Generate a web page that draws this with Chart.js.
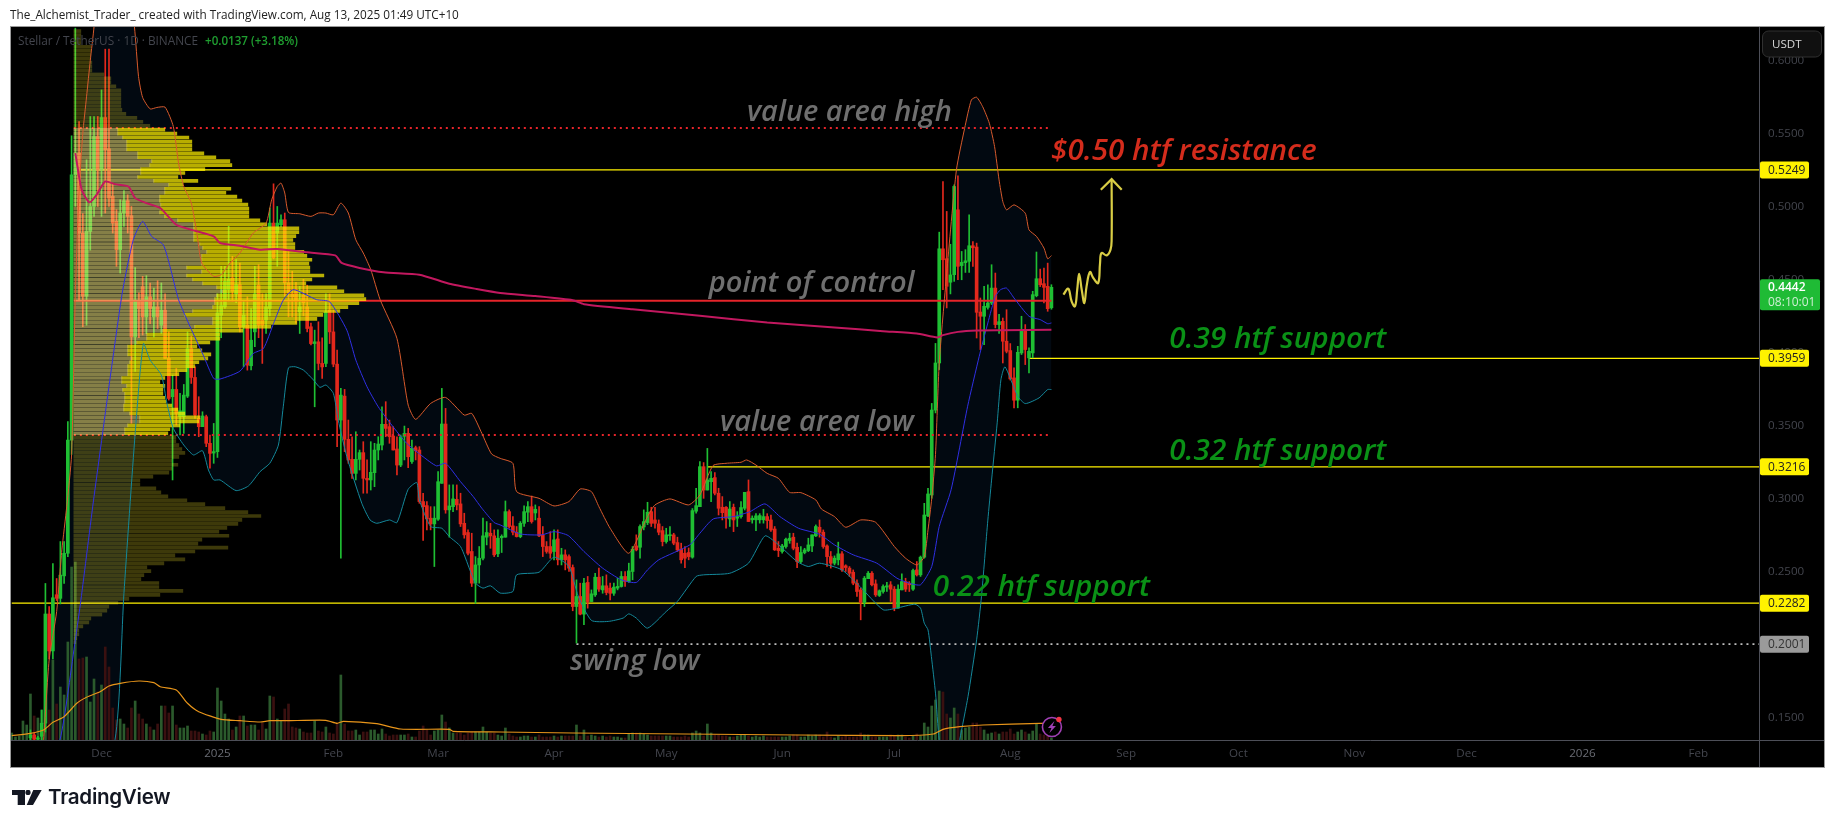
<!DOCTYPE html>
<html>
<head>
<meta charset="utf-8">
<title>Stellar / TetherUS</title>
<script src="https://cdn.jsdelivr.net/npm/chart.js@4/dist/chart.umd.min.js"></script>
<style>
    html, body { margin: 0; padding: 0; background: #fff; overflow: hidden; }
    #wrap { position: relative; width: 1835px; height: 828px; }
    #byline { position: absolute; left: 10px; top: 6px; font: 11.75px "Open Sans", sans-serif; color: #222; white-space: nowrap; }
    #logo { position: absolute; left: 12px; top: 790px; }
    #brand { position: absolute; left: 48px; top: 784px; font: 600 20.6px Inter, sans-serif; color: #131722; letter-spacing: -0.3px; }
    canvas { position: absolute; left: 0; top: 0; }
</style>
</head>
<body>
<div id="wrap">
    <canvas id="chart" width="1835" height="828"></canvas>
    <div id="byline">The_Alchemist_Trader_ created with TradingView.com, Aug 13, 2025 01:49 UTC+10</div>
    <svg id="logo" width="32" height="16" viewBox="0 0 32 16">
        <path d="M0 0H13V15H5.7V5H0Z M21.3 0H29.7L21 15H14.7Z" fill="#131722"/>
        <circle cx="16" cy="2.4" r="2.6" fill="#131722"/>
    </svg>
    <div id="brand">TradingView</div>
</div>
<script>
// days are counted from the first candle, Nov 7 2024
const opens = [
    .0940,.0970,.0980,.1000,.1080,.1360,.1380,.1350,.1370,.1460,
    .2208,.1955,.2340,.2315,.2469,.2624,.3399,.5216,.5364,.4817,
    .4384,.4828,.4999,.5478,.5250,.5608,.5394,.5068,.4897,.4703,
    .4954,.5038,.4936,.4106,.4350,.4450,.4243,.4380,.4243,.4311,
    .4186,.4289,.3958,.3696,.3746,.3560,.3559,.3700,.4026,.3828,
    .3548,.3491,.3559,.3377,.3310,.3320,.4254,.4311,.4430,.4509,
    .4400,.4463,.4175,.4186,.3908,.4140,.4460,.4220,.4220,.4300,
    .4885,.4817,.4874,.4908,.4475,.4400,.4430,.4277,.4390,.4311,
    .4175,.4060,.4072,.3924,.3924,.4289,.4140,.3919,.3536,.3700,
    .3404,.3267,.3171,.3267,.3313,.3137,.3126,.3176,.3331,.3365,
    .3507,.3491,.3427,.3338,.3228,.3425,.3445,.3252,.3347,.3331,
    .2978,.2950,.2864,.2825,.2857,.3103,.3509,.2921,.2943,.2993,
    .2962,.2829,.2766,.2636,.2419,.2544,.2590,.2734,.2761,.2743,
    .2620,.2730,.2734,.2909,.2811,.2768,.2738,.2829,.2905,.2943,
    .2900,.2864,.2750,.2670,.2670,.2636,.2722,.2579,.2613,.2601,
    .2526,.2259,.2328,.2207,.2424,.2293,.2339,.2460,.2373,.2401,
    .2385,.2350,.2385,.2396,.2465,.2430,.2499,.2674,.2665,.2804,
    .2834,.2909,.2852,.2825,.2779,.2704,.2744,.2750,.2697,.2652,
    .2624,.2629,.2597,.2912,.2943,.3217,.3057,.3114,.3142,.3035,
    .2939,.2939,.2859,.2939,.2864,.2875,.2932,.3046,.2853,.2853,
    .2853,.2853,.2875,.2852,.2790,.2658,.2636,.2670,.2711,.2734,
    .2665,.2567,.2629,.2642,.2674,.2743,.2802,.2768,.2674,.2601,
    .2556,.2579,.2620,.2538,.2522,.2494,.2419,.2373,.2287,.2450,
    .2487,.2414,.2335,.2362,.2392,.2408,.2378,.2248,.2373,.2430,
    .2419,.2378,.2510,.2476,.2597,.2880,.3023,.3604,.3927,.4709,
    .4641,.4480,.4532,.4976,.4594,.4614,.4623,.4730,.4721,.4276,
    .4247,.4308,.4338,.4440,.4190,.4212,.4076,.4012,.3825,.3672,
    .3996,.4144,.3962,.3996,.4388,.4504,.4470,.4452,.4305
];
const highs = [
    .0990,.1000,.1010,.1090,.1340,.1414,.1390,.1370,.1550,.2417,
    .2258,.2554,.2451,.2704,.2704,.3525,.5483,.6220,.5580,.4950,
    .5319,.5615,.5615,.5615,.5797,.6076,.6076,.5159,.4977,.5045,
    .5107,.5079,.4999,.4580,.4407,.4520,.4525,.4475,.4440,.4490,
    .4475,.4400,.4140,.3844,.3890,.3720,.3780,.4140,.4110,.3900,
    .3696,.3593,.3570,.3434,.3513,.4400,.4589,.4589,.4863,.4657,
    .4635,.4612,.4357,.4380,.4300,.4589,.4600,.4400,.4400,.4988,
    .5154,.4999,.4942,.4954,.4703,.4555,.4480,.4452,.4500,.4460,
    .4200,.4152,.4209,.4100,.4400,.4400,.4289,.4015,.3753,.3746,
    .3536,.3422,.3456,.3331,.3388,.3263,.3388,.3377,.3422,.3627,
    .3662,.3536,.3491,.3422,.3434,.3495,.3479,.3399,.3358,.3354,
    .3035,.2978,.2943,.2943,.3183,.3753,.3616,.3092,.3092,.3092,
    .3035,.2898,.2784,.2761,.2601,.2670,.2864,.2841,.2829,.2784,
    .2784,.2750,.2982,.2921,.2875,.2807,.2841,.2948,.2978,.3016,
    .2955,.2943,.2807,.2704,.2772,.2784,.2784,.2658,.2647,.2613,
    .2544,.2442,.2419,.2453,.2465,.2373,.2487,.2522,.2465,.2476,
    .2419,.2419,.2453,.2499,.2499,.2556,.2670,.2750,.2818,.2921,
    .2973,.2939,.2939,.2852,.2807,.2795,.2807,.2761,.2734,.2693,
    .2670,.2660,.2930,.3069,.3251,.3245,.3342,.3183,.3176,.3069,
    .3012,.2943,.2978,.2961,.2909,.2978,.3041,.3126,.2880,.2895,
    .2895,.2925,.2895,.2885,.2807,.2704,.2685,.2727,.2761,.2761,
    .2693,.2670,.2658,.2727,.2750,.2818,.2852,.2784,.2681,.2636,
    .2606,.2700,.2636,.2545,.2533,.2510,.2442,.2385,.2465,.2499,
    .2499,.2442,.2373,.2408,.2424,.2430,.2396,.2408,.2483,.2453,
    .2430,.2515,.2567,.2605,.2966,.3069,.3650,.4061,.4823,.5170,
    .4965,.4740,.5147,.5209,.4691,.4703,.4942,.4759,.4748,.4372,
    .4452,.4463,.4600,.4543,.4260,.4235,.4292,.4060,.3893,.4041,
    .4247,.4190,.4030,.4418,.4687,.4570,.4577,.4611,.4463
];
const lows = [
    .0920,.0950,.0960,.0980,.1060,.1320,.1320,.1310,.1330,.1400,
    .1900,.1900,.2300,.2277,.2417,.2600,.3300,.5000,.4361,.4175,
    .4186,.4700,.4931,.4999,.4931,.4954,.4999,.4817,.4589,.4543,
    .4863,.4817,.3514,.3870,.4100,.4118,.4129,.4197,.4106,.4163,
    .4129,.3958,.3673,.3126,.3502,.3434,.3445,.3690,.3787,.3548,
    .3422,.3491,.3354,.3206,.3240,.3280,.4100,.4300,.4350,.4350,
    .4340,.4140,.3901,.3878,.3880,.4038,.4100,.3924,.4129,.4250,
    .4640,.4589,.4860,.4384,.4243,.4243,.4200,.4129,.4250,.4140,
    .4050,.3627,.3880,.3821,.3901,.4060,.3901,.3354,.2590,.3320,
    .3240,.3137,.3126,.3194,.3035,.3035,.3057,.3080,.3263,.3331,
    .3422,.3377,.3331,.3160,.3217,.3263,.3210,.3240,.3263,.2966,
    .2711,.2784,.2784,.2533,.2848,.3103,.2898,.2734,.2909,.2921,
    .2807,.2727,.2613,.2396,.2281,.2419,.2579,.2681,.2658,.2601,
    .2600,.2629,.2734,.2795,.2750,.2735,.2730,.2807,.2841,.2830,
    .2852,.2738,.2601,.2624,.2590,.2579,.2544,.2544,.2510,.2499,
    .2230,.2009,.2202,.2134,.2248,.2293,.2328,.2362,.2350,.2339,
    .2305,.2335,.2373,.2392,.2397,.2424,.2442,.2640,.2590,.2784,
    .2820,.2807,.2795,.2750,.2674,.2693,.2711,.2682,.2636,.2556,
    .2526,.2579,.2590,.2898,.2943,.3000,.3057,.2978,.3023,.2886,
    .2852,.2795,.2807,.2772,.2807,.2864,.2920,.2841,.2830,.2779,
    .2830,.2830,.2795,.2773,.2643,.2601,.2624,.2658,.2692,.2647,
    .2526,.2556,.2620,.2635,.2635,.2738,.2734,.2658,.2533,.2522,
    .2544,.2544,.2499,.2499,.2465,.2408,.2328,.2168,.2259,.2450,
    .2400,.2328,.2328,.2350,.2362,.2294,.2230,.2248,.2373,.2362,
    .2362,.2369,.2468,.2465,.2590,.2875,.3000,.3585,.3882,.4429,
    .4304,.4400,.4486,.4497,.4497,.4547,.4547,.4588,.4098,.4019,
    .4053,.4295,.4327,.4167,.4130,.3927,.3996,.3810,.3620,.3620,
    .3985,.3916,.3859,.3962,.4380,.4450,.4338,.4281,.4295
];
const closes = [
    .0970,.0980,.1000,.1080,.1300,.1380,.1350,.1360,.1460,.2208,
    .1955,.2319,.2315,.2474,.2624,.3399,.5216,.5364,.4817,.4384,
    .4828,.4999,.5478,.5250,.5608,.5387,.5056,.4885,.4703,.4954,
    .5038,.4931,.4106,.4357,.4300,.4243,.4380,.4300,.4311,.4243,
    .4289,.3958,.3684,.3746,.3582,.3600,.3707,.4026,.3828,.3570,
    .3491,.3564,.3377,.3308,.3320,.4270,.4320,.4486,.4500,.4418,
    .4463,.4175,.4254,.3912,.4083,.4400,.4186,.4186,.4311,.4885,
    .4647,.4885,.4908,.4475,.4407,.4380,.4350,.4311,.4340,.4163,
    .4060,.4072,.3924,.3900,.4277,.4140,.3919,.3536,.3707,.3404,
    .3263,.3171,.3267,.3313,.3137,.3126,.3178,.3331,.3372,.3507,
    .3479,.3422,.3331,.3228,.3422,.3445,.3285,.3343,.3326,.2978,
    .2943,.2859,.2825,.2864,.3114,.3509,.2921,.2948,.2996,.2955,
    .2825,.2750,.2624,.2419,.2544,.2590,.2743,.2766,.2743,.2613,
    .2727,.2740,.2909,.2807,.2768,.2738,.2829,.2909,.2943,.2841,
    .2925,.2743,.2670,.2636,.2624,.2716,.2579,.2613,.2579,.2522,
    .2259,.2328,.2207,.2419,.2293,.2346,.2460,.2378,.2401,.2355,
    .2350,.2392,.2397,.2465,.2430,.2503,.2652,.2647,.2807,.2841,
    .2905,.2829,.2829,.2768,.2704,.2750,.2750,.2693,.2647,.2579,
    .2590,.2601,.2916,.2950,.3217,.3057,.3126,.3137,.3035,.2932,
    .2902,.2864,.2927,.2852,.2875,.2937,.3041,.2841,.2864,.2880,
    .2882,.2875,.2848,.2784,.2647,.2642,.2674,.2720,.2727,.2658,
    .2567,.2629,.2647,.2681,.2750,.2807,.2768,.2670,.2601,.2556,
    .2590,.2620,.2510,.2526,.2487,.2419,.2362,.2287,.2453,.2487,
    .2408,.2339,.2367,.2396,.2401,.2378,.2248,.2378,.2430,.2378,
    .2408,.2506,.2476,.2597,.2886,.3030,.3605,.3927,.4709,.4634,
    .4452,.4530,.5136,.4589,.4616,.4627,.4730,.4716,.4274,.4247,
    .4315,.4338,.4440,.4190,.4210,.4076,.4007,.3818,.3672,.4000,
    .4144,.4019,.4007,.4395,.4504,.4463,.4445,.4299,.4445
];
const volumes = [
    7,3,4,19,15,46,24,22,30,37,
    30,80,36,53,45,98,173,178,81,82,
    83,38,61,48,55,93,73,32,20,21,
    16,12,32,39,26,21,16,13,10,16,
    34,34,27,34,15,12,12,14,9,9,
    8,6,5,9,8,52,39,26,21,10,
    13,24,24,14,15,15,10,17,11,44,
    43,21,19,31,36,13,12,11,8,7,
    7,19,9,8,13,7,6,17,65,16,
    9,9,10,5,8,8,10,10,6,11,
    6,4,5,5,5,5,6,3,3,9,
    14,10,5,9,10,25,18,12,7,7,
    7,5,7,8,8,8,13,8,7,7,
    5,4,12,6,4,3,3,4,4,3,
    3,5,3,3,3,4,3,4,4,4,
    4,15,4,10,4,5,4,3,4,3,
    4,3,3,2,2,6,7,7,7,6,
    5,4,4,4,4,4,4,3,3,3,
    4,3,7,9,7,4,16,7,5,5,
    4,4,3,3,4,5,5,4,3,4,
    3,4,3,3,3,3,3,3,4,5,
    5,3,3,5,4,5,5,3,8,3,
    2,4,3,4,3,3,3,7,5,5,
    3,3,3,3,3,5,4,5,5,3,
    2,4,6,4,17,13,34,40,49,48,
    26,22,32,26,10,12,13,17,17,13,
    10,6,7,8,6,8,8,11,6,8,
    10,8,6,9,16,6,5,5,2
];

// bollinger bands and averages, read at the turning points
const upperDays = [8,8.5,10,12,13.4,14.7,16,17,18,19,20,21,22,23,24,28,32.8,33.9,35,37,38.8,41,43.2,44.6,46,48,49.5,50.8,54,56,58.4,61,64.6,68,69.5,71,72,73,74,77,80,82,84,86,88,90,92,94,96,98.5,103,106,108,112,116,121,123,125.7,128.3,130.6,134,135,141,145,149,152,155,157,160,165,170,172,176,181,184,187.5,191,195,196.5,199,202,205,208,211,215,216.5,220,223,227,231,236,239,242,244,245,246,247,248,250,252.6,254.8,256.6,258,259.6,261.4,262.8,264,265,266,268,271,272,274,276,277,278];
const upperBand = [.130,.1346,.1893,.2224,.2647,.2943,.3300,.4400,.5100,.5500,.5750,.6000,.6230,.6600,.6800,.7200,.6230,.5889,.5745,.5667,.5677,.5679,.5547,.5296,.5136,.5022,.4817,.4612,.4520,.4532,.4612,.4680,.4817,.4885,.5045,.5136,.5159,.5091,.4958,.4949,.4931,.4954,.4954,.4942,.5022,.4954,.4771,.4680,.4566,.4361,.4095,.3639,.3541,.3650,.3691,.3570,.3582,.3445,.3304,.3274,.3240,.3046,.3000,.2948,.2978,.3064,.3046,.2943,.2795,.2624,.2875,.2955,.2996,.2955,.3023,.3224,.3240,.3247,.3263,.3228,.3171,.3137,.3041,.3039,.2989,.2927,.2875,.2802,.2852,.2836,.2670,.2590,.2544,.2601,.2784,.3000,.3300,.3927,.4543,.5250,.5535,.5729,.5747,.5683,.5569,.5409,.5181,.5033,.4976,.5010,.4953,.4839,.4794,.4714,.4641,.4662];
const lowerDays = [8,20,27.6,30,33,35.2,37,40,41.5,43.2,46,48.6,51,52.6,54,55.7,60,63.3,66.4,69,71.3,72.6,74,75.8,78,80.7,82.4,84,86,87.3,89.6,93.6,95.8,97.6,101,103,106,108.3,109,112,115,117,120,122.5,124,126,128,130.6,134,135,141,145,149,151.5,155,159.5,163.5,165,167,170,175,178,183,185,192,197,201.4,204.5,210,213,216,222,226.8,233,236.6,241.5,243,244,245,245.9,247,248,250,252,253.5,255.7,258,259.3,261,262,263.5,264.5,265.6,269,271,274.7,277,278];
const lowerBand = [.130,.090,.1346,.2349,.3445,.4060,.3947,.3844,.3650,.3479,.3365,.3297,.3326,.3194,.3126,.3126,.3053,.3085,.3183,.3240,.3365,.3627,.3894,.3901,.3878,.3810,.3760,.3776,.3719,.3536,.3285,.2966,.2852,.2829,.2852,.2834,.3062,.3108,.2989,.2807,.2795,.2738,.2670,.2510,.2419,.2385,.2401,.2351,.2362,.2476,.2494,.2597,.2533,.2328,.2164,.2157,.2180,.2209,.2180,.2111,.2225,.2294,.2465,.2476,.2487,.2556,.2743,.2693,.2567,.2533,.2556,.2510,.2396,.2237,.2248,.2275,.2248,.2145,.2099,.1917,.1666,.1347,.1100,.1100,.1347,.1643,.2031,.2327,.2851,.3125,.3517,.3813,.3900,.3699,.3649,.3688,.3745,.3745];
const basisDays = [8,12.9,17,18.5,22,29.4,32.5,35,37.4,40.5,42.3,44.6,47.7,51.2,54,55.7,61,64.6,67.3,70,72.6,75.3,81.5,85,89.6,92,95,98,101.6,105.6,110,113.6,116,120,123.4,125.7,129,130.6,136,141.7,145,148.8,153,158,163,167,170,173,181.3,184,187.6,193,197.4,201.4,205.4,210.4,216,220,225,231.3,236.7,240,243,246,248,251.2,255.6,258.7,261,263,264.4,266,268,272,275,277,278];
const basisBand = [.110,.1346,.2030,.2305,.3012,.4384,.4771,.4897,.4794,.4737,.4589,.4361,.4175,.3981,.3821,.3817,.3871,.3992,.4026,.4197,.4357,.4429,.4361,.4346,.4152,.3947,.3764,.3627,.3502,.3377,.3285,.3222,.3240,.3114,.3012,.2932,.2834,.2818,.2756,.2750,.2772,.2745,.2636,.2522,.2442,.2424,.2510,.2579,.2681,.2761,.2859,.2875,.2909,.2962,.2875,.2795,.2754,.2681,.2613,.2556,.2453,.2419,.2408,.2533,.2807,.3061,.3631,.3973,.4201,.4383,.4429,.4440,.4372,.4247,.4224,.4196,.4201];
const maDays = [17,18.7,20.8,22.7,25,27.6,31.2,33,36,39.7,44,48.6,54,55.7,61,66.4,70.9,79,86.5,88.2,93,99.4,109,117,124.3,130.6,140,150,153,166,184,202,220,233,242,247.5,249,253,258,264.6,278];
const maLine = [.5364,.5113,.5027,.5079,.5170,.5152,.5136,.5056,.5022,.4988,.4874,.4835,.4794,.4749,.4730,.4703,.4708,.4685,.4664,.4612,.4578,.4548,.4532,.4470,.4434,.4407,.4385,.4357,.4330,.4295,.4250,.4204,.4170,.4145,.4129,.4102,.4118,.4140,.4150,.4152,.4155];
const volMaDays = [0,5,8.5,11,14,17.4,20,23.6,26,29,34,38,39.7,44,47,50,56,61,66.4,69,73.5,84,87,88.7,97.6,104,117,118,130.6,150,180,210,237.5,246.4,249,253.5,259.7,274.9,278];
const volMa = [4.3,6.7,10,17.7,23.3,36.7,42.7,48.3,54,56.7,59,57.3,53.3,50,36.7,28.3,20.7,19.3,18,19.3,19.3,19.7,16.7,18.7,16.3,11,10.7,8.7,8,7,6,5,4.3,6,10.7,13.3,15,16.7,16.7];

// volume profile, one row per price bucket from the top down
const profileTop = 0.62;
const profileStep = 0.0027;
const profileVolume = [
    7,7,7,7,17,17,17,17,18,18,18,30,37,37,42,47,47,47,47,47,48,52,63,69,76,
    91,103,115,118,118,118,130,142,156,158,131,111,104,124,109,157,152,163,168,174,175,175,175,186,193,
    225,225,222,219,221,221,230,233,238,235,236,236,250,238,232,263,270,290,292,285,274,266,249,243,223,
    197,169,146,146,136,123,128,137,134,125,121,113,105,91,86,91,89,89,91,92,98,104,111,126,125,106,96,94,
    102,102,105,108,111,105,98,104,98,95,79,66,66,82,87,94,113,131,151,174,187,168,164,153,145,155,128,124,154,121,101,111,
    90,73,77,70,67,85,85,109,86,55,44,35,33,28,17,15,9,5,5,3,2
];
// buy side of each value area row
const valueAreaFirstRow = 25;
const valueAreaBuy = [
    44,44,49,53,53,53,64,64,78,76,67,67,64,80,95,91,91,86,86,87,87,86,91,104,120,
    120,120,120,120,126,129,133,128,128,128,113,128,113,119,129,143,149,143,141,141,139,119,111,139,139,
    121,89,73,73,63,54,54,54,58,56,54,54,54,48,48,53,49,51,51,51,50,50,56,66,66,54,51,51
];
const profileStartDay = 16.6;
const profileDaysPerUnit = 0.2674;
const profileLastDay = 278;

const valueAreaHigh = 0.5536;
const valueAreaLow = 0.3434;
const pointOfControl = 0.4353;

const levelPrices = [0.5249, 0.3959, 0.3216, 0.2282];
const levelStartDays = [16.6, 272, 186, 0];
const swingLow = 0.2001;
const swingLowStartDay = 151;

const priceTicks = [0.15,0.20,0.25,0.30,0.35,0.40,0.45,0.50,0.55,0.60];
const timeTickDays = [24,55,86,114,145,175,206,236,267,298,328,359,389,420,451];
const timeTickLabels = ['Dec','2025','Feb','Mar','Apr','May','Jun','Jul','Aug','Sep','Oct','Nov','Dec','2026','Feb'];

const lastPrice = 0.4442;
const countdown = '08:10:01';

const noteLabels = ['value area high','point of control','value area low','swing low','$0.50 htf resistance','0.39 htf support','0.32 htf support','0.22 htf support'];
const noteDays = [196.6,186.4,189.4,149.3,277.9,309.5,309.5,246.3];
const notePrices = [.5653,.4482,.3529,.1892,.5392,.4098,.3331,.2406];
const noteKinds = ['grey','grey','grey','grey','red','green','green','green'];

// the hand drawn path and its arrow head
const pathDays = [281.2,282.5,283.4,284.3,284.9,285.4,286.1,286.8,287.4,288.3,289.2,290.5,291,291.4,292.8,293.8,294.1,294.1];
const pathPrices = [.4395,.4436,.4349,.4315,.4429,.4538,.4429,.4338,.4452,.4550,.4509,.4475,.4611,.4680,.4664,.4703,.4771,.5181];
const headDays = [291.2,294.1,296.8];
const headPrices = [.5113,.5186,.5113];

const COLORS = {
    up: '#1fbf33', down: '#e3281c',
    volUp: '#2b5a2c', volDown: '#3a1010',
    level: '#fff200', poc: '#e6242a', dots: '#e6242a', swing: '#bdbdbd',
    tick: '#43454d', axis: '#4d4f58', frame: '#9a9a9a',
    grey: '#6f6f6f', red: '#d42c1c', green: '#0a9116',
};

const X_MIN = -0.2;
const X_MAX = 467.2;
const VOL_MAX = 713;

const pairs = (xs, ys) => xs.map((x, i) => ({ x, y: ys[i] }));
const days = closes.map((_, i) => i);
const isUp = i => closes[i] >= opens[i];
const candleColors = days.map(i => isUp(i) ? COLORS.up : COLORS.down);
const volumeColors = days.map(i => isUp(i) ? COLORS.volUp : COLORS.volDown);

function lineSet(data, color, width, order, extra) {
    return Object.assign({
        type: 'line', data, borderColor: color, borderWidth: width, order,
        pointRadius: 0, fill: false, yAxisID: 'y',
    }, extra || {});
}

const profileRows = profileVolume.map((volume, i) => ({ price: profileTop - i * profileStep, volume, row: i }));
const inValueArea = r => r.row >= valueAreaFirstRow && r.row < valueAreaFirstRow + valueAreaBuy.length;
const toDay = units => profileStartDay + units * profileDaysPerUnit;

const datasets = [
    // band fill, kept apart from the band lines because it sits behind everything
    lineSet(pairs(upperDays, upperBand), 'transparent', 0, 40, { fill: '+1', backgroundColor: '#020911', tension: 0.2 }),
    lineSet(pairs(lowerDays, lowerBand), 'transparent', 0, 41, { tension: 0.2 }),

    {
        type: 'bar', data: days.map(i => ({ x: i, y: volumes[i] })), yAxisID: 'yVol',
        backgroundColor: volumeColors, barThickness: 2, grouped: false, order: 30,
    },
    lineSet(pairs(levelStartDays.slice(0, 1).concat([X_MAX]), [levelPrices[0], levelPrices[0]]), COLORS.level, 1.2, 22),
    lineSet(pairs(levelStartDays.slice(1, 2).concat([X_MAX]), [levelPrices[1], levelPrices[1]]), COLORS.level, 1.2, 22),
    lineSet(pairs(levelStartDays.slice(2, 3).concat([X_MAX]), [levelPrices[2], levelPrices[2]]), COLORS.level, 1.2, 22),
    lineSet(pairs(levelStartDays.slice(3, 4).concat([X_MAX]), [levelPrices[3], levelPrices[3]]), COLORS.level, 1.2, 22),
    lineSet(pairs([swingLowStartDay, X_MAX], [swingLow, swingLow]), COLORS.swing, 1.7, 22, { borderDash: [2, 4] }),

    {
        type: 'bar', data: days.map(i => ({ x: i, y: [lows[i], highs[i]] })),
        backgroundColor: candleColors, barThickness: 1, grouped: false, order: 21,
    },
    {
        type: 'bar', data: days.map(i => ({ x: i, y: [opens[i], closes[i]] })),
        backgroundColor: candleColors, barThickness: 3, grouped: false, order: 20, minBarLength: 1,
    },

    lineSet(pairs([profileStartDay, profileLastDay], [pointOfControl, pointOfControl]), COLORS.poc, 2, 12),
    lineSet(pairs([profileStartDay, profileLastDay], [valueAreaHigh, valueAreaHigh]), COLORS.dots, 2, 12, { borderDash: [2, 4] }),
    lineSet(pairs([profileStartDay, profileLastDay], [valueAreaLow, valueAreaLow]), COLORS.dots, 2, 12, { borderDash: [2, 4] }),

    // volume profile rows are horizontal bars on the same two scales
    {
        type: 'bar', indexAxis: 'y', grouped: false, barThickness: 3, order: 10,
        data: profileRows.filter(r => !inValueArea(r)).map(r => ({ y: r.price, x: [toDay(0), toDay(r.volume)] })),
        backgroundColor: 'rgba(255,240,40,0.24)',
    },
    {
        type: 'bar', indexAxis: 'y', grouped: false, barThickness: 3, order: 10,
        data: profileRows.filter(inValueArea).map(r => ({ y: r.price, x: [toDay(0), toDay(valueAreaBuy[r.row - valueAreaFirstRow])] })),
        backgroundColor: 'rgba(255,235,120,0.52)',
    },
    {
        type: 'bar', indexAxis: 'y', grouped: false, barThickness: 3, order: 10,
        data: profileRows.filter(inValueArea).map(r => ({ y: r.price, x: [toDay(valueAreaBuy[r.row - valueAreaFirstRow]), toDay(r.volume)] })),
        backgroundColor: 'rgba(255,240,0,0.72)',
    },

    lineSet(pairs(upperDays, upperBand), '#d85a2c', 1, 6, { tension: 0.2 }),
    lineSet(pairs(lowerDays, lowerBand), '#14889a', 1, 6, { tension: 0.2 }),
    lineSet(pairs(basisDays, basisBand), '#2f2fe4', 1, 6, { tension: 0.2 }),
    lineSet(pairs(maDays, maLine), '#c2185f', 2, 4, { tension: 0.2 }),
    lineSet(pairs(volMaDays, volMa), '#e8951a', 1.2, 5, { yAxisID: 'yVol', tension: 0.2 }),

    lineSet(pairs(pathDays, pathPrices), '#d9cd45', 2.2, 2, { tension: 0.4 }),
    lineSet(pairs(headDays, headPrices), '#d9cd45', 2.2, 2),
];

function priceTag(ctx, y, left, width, height, fill, textColor, text) {
    ctx.fillStyle = fill;
    ctx.beginPath();
    ctx.roundRect(left, y - height / 2, width, height, 2);
    ctx.fill();
    ctx.fillStyle = textColor;
    ctx.font = '12px "Open Sans", sans-serif';
    ctx.textAlign = 'left';
    ctx.textBaseline = 'middle';
    ctx.fillText(text, left + 8, y + 0.5);
}

const panelPlugin = {
    id: 'panel',
    beforeDraw(chart) {
        const { ctx, chartArea, scales } = chart;
        ctx.save();
        ctx.fillStyle = '#000';
        ctx.fillRect(chartArea.left, chartArea.top, scales.y.right - chartArea.left, scales.x.bottom - chartArea.top);
        ctx.restore();
    },
    afterDraw(chart) {
        const { ctx, chartArea, scales } = chart;
        const { x, y } = scales;
        const right = y.right;
        const bottom = x.bottom;
        ctx.save();

        // frame and the axis line that runs under the price scale
        ctx.strokeStyle = COLORS.axis;
        ctx.lineWidth = 1;
        ctx.beginPath();
        ctx.moveTo(chartArea.left, chartArea.bottom + 0.5);
        ctx.lineTo(right, chartArea.bottom + 0.5);
        ctx.moveTo(chartArea.right + 0.5, chartArea.top);
        ctx.lineTo(chartArea.right + 0.5, bottom);
        ctx.stroke();
        ctx.strokeStyle = COLORS.frame;
        ctx.strokeRect(chartArea.left - 0.5, chartArea.top - 0.5, right - chartArea.left + 1, bottom - chartArea.top + 1);

        // legend line
        ctx.textAlign = 'left';
        ctx.textBaseline = 'middle';
        ctx.font = '11.8px "Open Sans", sans-serif';
        ctx.fillStyle = '#43454d';
        ctx.fillText('Stellar / TetherUS · 1D · BINANCE', 18, 42);
        ctx.font = '600 11.6px "Open Sans", sans-serif';
        ctx.fillStyle = '#1f9e30';
        ctx.fillText('+0.0137 (+3.18%)', 205, 42);

        // notes on the chart
        noteLabels.forEach((label, i) => {
            ctx.font = `italic 600 ${noteKinds[i] === 'grey' ? 29 : 29.7}px "Open Sans", sans-serif`;
            ctx.fillStyle = COLORS[noteKinds[i]];
            ctx.fillText(label, x.getPixelForValue(noteDays[i]), y.getPixelForValue(notePrices[i]) + 2);
        });

        // USDT button
        ctx.fillStyle = '#101010';
        ctx.strokeStyle = '#303030';
        ctx.beginPath();
        ctx.roundRect(chartArea.right + 3.5, chartArea.top + 4, 59, 26, 6);
        ctx.fill();
        ctx.stroke();
        ctx.fillStyle = '#d8d8d8';
        ctx.font = '11.6px "Open Sans", sans-serif';
        ctx.fillText('USDT', chartArea.right + 13, chartArea.top + 17.5);

        // price tags
        const tagLeft = chartArea.right + 1;
        levelPrices.forEach(price => {
            priceTag(ctx, y.getPixelForValue(price), tagLeft, 49, 17, COLORS.level, '#222', price.toFixed(4));
        });
        priceTag(ctx, y.getPixelForValue(swingLow), tagLeft, 49, 17, '#9a9a9a', '#333', swingLow.toFixed(4));

        const lastY = y.getPixelForValue(lastPrice);
        ctx.fillStyle = '#1fbb35';
        ctx.beginPath();
        ctx.roundRect(tagLeft, lastY - 8.5, 60, 31, 2);
        ctx.fill();
        ctx.font = '600 12px "Open Sans", sans-serif';
        ctx.fillStyle = '#fff';
        ctx.fillText(lastPrice.toFixed(4), tagLeft + 8, lastY);
        ctx.font = '12px "Open Sans", sans-serif';
        ctx.fillStyle = '#cdeed2';
        ctx.fillText(countdown, tagLeft + 8, lastY + 15);

        // earnings badge at the last candle
        const badgeX = x.getPixelForValue(profileLastDay) + 0.5;
        const badgeY = chartArea.bottom - 13;
        ctx.strokeStyle = '#a040b4';
        ctx.lineWidth = 1.6;
        ctx.fillStyle = '#000';
        ctx.beginPath();
        ctx.arc(badgeX, badgeY, 9.5, 0, Math.PI * 2);
        ctx.fill();
        ctx.stroke();
        ctx.fillStyle = '#a040b4';
        ctx.beginPath();
        ctx.moveTo(badgeX + 2.5, badgeY - 6);
        ctx.lineTo(badgeX - 4, badgeY + 1);
        ctx.lineTo(badgeX - 0.5, badgeY + 1);
        ctx.lineTo(badgeX - 2.5, badgeY + 6);
        ctx.lineTo(badgeX + 4, badgeY - 1);
        ctx.lineTo(badgeX + 0.5, badgeY - 1);
        ctx.closePath();
        ctx.fill();
        ctx.fillStyle = '#f23645';
        ctx.beginPath();
        ctx.arc(badgeX + 7, badgeY - 7.5, 2.7, 0, Math.PI * 2);
        ctx.fill();
        ctx.restore();
    },
};

new Chart(document.getElementById('chart'), {
    data: { datasets },
    plugins: [panelPlugin],
    options: {
        responsive: false,
        animation: false,
        devicePixelRatio: 1,
        layout: { padding: { left: 11, top: 27, right: 11, bottom: 61 } },
        plugins: { legend: { display: false }, tooltip: { enabled: false } },
        elements: { bar: { borderWidth: 0 } },
        scales: {
            x: {
                type: 'linear',
                offset: false,
                min: X_MIN,
                max: X_MAX,
                grid: { display: false, drawTicks: false, offset: false },
                border: { display: false },
                afterBuildTicks: scale => { scale.ticks = timeTickDays.map(value => ({ value })); },
                afterFit: scale => { scale.height = 27; },
                ticks: {
                    autoSkip: false,
                    maxRotation: 0,
                    padding: 7,
                    font: { family: '"Open Sans", sans-serif', size: 11.6 },
                    color: ctx => (ctx.tick && /^20/.test(ctx.tick.label)) ? '#6a6c74' : COLORS.tick,
                    callback: (value, i) => timeTickLabels[i],
                },
            },
            y: {
                type: 'linear',
                position: 'right',
                offset: false,
                min: 0.1345,
                max: 0.6228,
                grid: { display: false, drawTicks: false, offset: false },
                border: { display: false },
                afterBuildTicks: scale => { scale.ticks = priceTicks.map(value => ({ value })); },
                afterFit: scale => { scale.width = 65; },
                ticks: {
                    autoSkip: false,
                    padding: 9,
                    font: { family: '"Open Sans", sans-serif', size: 11.6 },
                    color: COLORS.tick,
                    callback: value => value.toFixed(4),
                },
            },
            yVol: { type: 'linear', display: false, offset: false, min: 0, max: VOL_MAX },
        },
    },
});
</script>
</body>
</html>
